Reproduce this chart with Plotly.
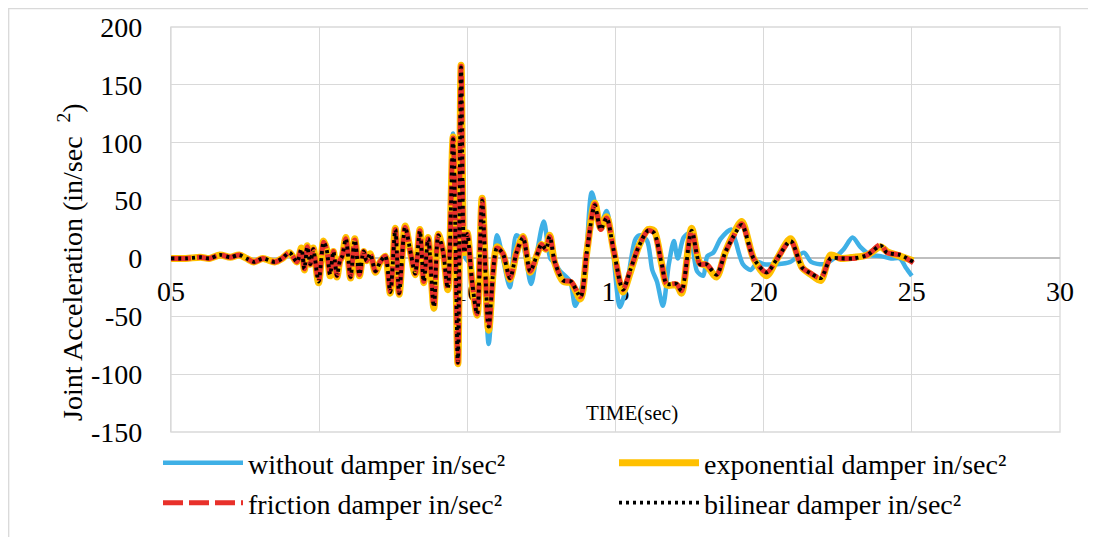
import plotly.graph_objects as go

# ---------------- data ----------------
time_damped = [
    0, 0.5, 1.0, 1.3, 1.65, 2.0, 2.3, 2.55, 2.8, 3.1,
    3.5, 3.75, 4.0, 4.25, 4.4, 4.5, 4.6, 4.7, 4.8, 4.98,
    5.15, 5.25, 5.37, 5.48, 5.6, 5.7, 5.78, 5.9, 6.06, 6.2,
    6.36, 6.5, 6.6, 6.72, 6.9, 7.06, 7.23, 7.4, 7.57, 7.7,
    7.9, 8.1, 8.24, 8.4, 8.53, 8.68, 8.87, 9.02, 9.18, 9.34,
    9.52, 9.68, 9.79, 9.9, 10.0, 10.16, 10.33, 10.5, 10.72, 11.0,
    11.2, 11.44, 11.66, 11.88, 12.12, 12.35, 12.5, 12.65, 12.78, 12.95,
    13.24, 13.5, 13.82, 14.03, 14.3, 14.5, 14.7, 14.93, 15.25, 15.5,
    15.78, 16.1, 16.3, 16.56, 16.73, 17.06, 17.23, 17.57, 17.85, 18.07,
    18.41, 18.7, 18.98, 19.26, 19.66, 20.1, 20.46, 20.91, 21.3, 21.6,
    21.93, 22.26, 22.6, 23.04, 23.5, 23.95, 24.16, 24.6, 25.05,
]

exponential_damper = [
    0, 0, 1, 0, 3, 1, 3, 0, -3, 0,
    -3, 0, 5, -3, 9, -10, 11, -5, 9, -21,
    15, 8, -15, 6, -16, -2, 2, 18, -17, 17,
    -15, 6, -2, 4, -12, -3, 2, -30, 26, -31,
    28, 3, -14, 25, -21, 18, -43, 21, 6, -27,
    105, -91, 167, 5, 22, -21, -49, 52, -62, 10,
    4, -18, 5, 19, -12, 3, 12, 8, 20, -4,
    -20, -21, -35, 5, 48, 26, 36, 8, -29, -12,
    10, 25, 24, -5, -23, -23, -30, 26, -4, -6,
    -16, 5, 21, 32, 0, -15, 0, 17, -8, -14,
    -19, 3, 0, 1, 3, 10, 6, 2, -2,
]

friction_damper = [
    0, 0, 1, 0, 3, 1, 3, 0, -3, 0,
    -3, 0, 5, -3, 8, -9, 10, -5, 8, -20,
    14, 8, -14, 6, -15, -2, 2, 17, -16, 16,
    -14, 6, -2, 4, -11, -3, 2, -29, 25, -30,
    27, 3, -13, 24, -20, 17, -42, 20, 6, -26,
    104, -90, 166, 5, 21, -20, -48, 51, -60, 9,
    4, -17, 5, 18, -11, 3, 12, 8, 19, -3,
    -19, -20, -33, 5, 47, 25, 35, 8, -27, -10,
    10, 24, 22, -5, -22, -22, -28, 24, -5, -5,
    -14, 5, 19, 30, 0, -12, 0, 15, -8, -13,
    -17, 0, 0, 0, 3, 12, 5, 3, -4,
]

bilinear_damper = [
    0, 0, 1, 0, 3, 1, 3, 0, -3, 0,
    -3, 0, 5, -3, 8, -9, 10, -5, 8, -20,
    14, 8, -14, 6, -15, -2, 2, 17, -16, 16,
    -14, 6, -2, 4, -11, -3, 2, -29, 25, -30,
    27, 3, -13, 24, -20, 17, -42, 20, 6, -26,
    103, -90, 165, 5, 21, -20, -48, 50, -59, 9,
    4, -17, 5, 18, -11, 3, 12, 8, 19, -3,
    -19, -20, -33, 5, 46, 25, 35, 8, -27, -10,
    10, 24, 22, -5, -22, -22, -28, 24, -5, -5,
    -14, 5, 19, 29, 0, -12, 0, 15, -8, -13,
    -17, 0, 0, 0, 3, 11, 5, 3, -3,
]

time_without = [
    0, 0.5, 1.0, 1.3, 1.65, 2.0, 2.3, 2.55, 2.8, 3.1,
    3.5, 3.75, 4.0, 4.25, 4.4, 4.5, 4.6, 4.7, 4.8, 4.98,
    5.15, 5.25, 5.37, 5.48, 5.6, 5.7, 5.78, 5.9, 6.06, 6.2,
    6.36, 6.5, 6.6, 6.72, 6.9, 7.06, 7.23, 7.4, 7.57, 7.7,
    7.9, 8.1, 8.24, 8.4, 8.53, 8.68, 8.87, 9.02, 9.18, 9.34,
    9.52, 9.66, 9.8, 9.95, 10.1, 10.33, 10.5, 10.72, 11.0, 11.2,
    11.44, 11.65, 11.85, 12.15, 12.35, 12.58, 12.8, 12.95, 13.13, 13.47,
    13.64, 13.86, 14.03, 14.2, 14.5, 14.7, 14.9, 15.15, 15.4, 15.68,
    15.85, 16.07, 16.24, 16.4, 16.6, 16.8, 16.97, 17.1, 17.3, 17.5,
    17.75, 17.96, 18.1, 18.3, 18.55, 18.9, 19.05, 19.3, 19.56, 19.8,
    20.0, 20.45, 20.9, 21.36, 21.6, 22.03, 22.37, 22.7, 23.0, 23.26,
    23.6, 23.95, 24.3, 24.6, 24.8, 25.0,
]

without_damper = [
    0, 0, 1, 0, 3, 1, 3, 0, -3, 0,
    -3, 0, 5, -3, 8, -9, 10, -5, 8, -20,
    14, 8, -14, 6, -15, -2, 2, 17, -16, 16,
    -14, 6, -2, 4, -11, -3, 2, -29, 25, -30,
    27, 3, -13, 24, -20, 17, -44, 20, 6, -26,
    108, -85, 15, 0, -5, -45, 45, -74, 20, 0,
    -25, 20, 15, -22, 5, 32, 0, -4, -11, -20,
    -41, -25, 10, 57, 30, 41, 10, -42, -20, 17,
    20, 15, -10, -20, -41, -5, 15, 0, 18, 22,
    -11, -15, 2, 5, 17, 25, 15, -5, -10, -3,
    -5, -5, -3, 5, -3, -5, 0, 8, 18, 10,
    3, 2, 0, 0, -8, -15,
]

x_tick_values = [0, 5, 10, 15, 20, 25, 30]
x_tick_labels = ["05", "", "10", "15", "20", "25", "30"]
y_tick_values = [-150, -100, -50, 0, 50, 100, 150, 200]
y_tick_labels = ["-150", "-100", "-50", "0", "50", "100", "150", "200"]

series_names = [
    "without damper in/sec²",
    "exponential damper in/sec²",
    "friction damper in/sec²",
    "bilinear damper in/sec²",
]

# ---------------- figure ----------------
FONT = "Liberation Serif, Times New Roman, serif"
OFF = 8  # the page body offsets the figure by 8px
W, H = 1096 - OFF, 537 - OFF
# plot area in page pixels: x 171..1060, y 27..432
L, T = 171 - OFF, 27 - OFF
R = W - (1060 - OFF)
B = H - (432 - OFF)
PW, PH = W - L - R, H - T - B


def px_x(page_x):
    return (page_x - OFF - L) / PW


def px_y(page_y):
    return (H - B - (page_y - OFF)) / PH


fig = go.Figure()

fig.add_trace(go.Scatter(
    x=time_without, y=without_damper, mode="lines", name=series_names[0],
    line=dict(color="#3fb0e6", width=4.5, shape="spline", smoothing=0.8),
    legend="legend",
))
fig.add_trace(go.Scatter(
    x=time_damped, y=exponential_damper, mode="lines", name=series_names[1],
    line=dict(color="#ffc000", width=7, shape="spline", smoothing=0.8),
    legend="legend2",
))
fig.add_trace(go.Scatter(
    x=time_damped, y=friction_damper, mode="lines", name=series_names[2],
    line=dict(color="#e8302a", width=5, dash="20px,6px", shape="spline", smoothing=0.8),
    legend="legend3",
))
fig.add_trace(go.Scatter(
    x=time_damped, y=bilinear_damper, mode="lines", name=series_names[3],
    line=dict(color="#000000", width=3.8, dash="3px,4px", shape="spline", smoothing=0.8),
    legend="legend4",
))

zero_frac = (0 - (-150)) / 350.0


def legend_at(page_x, page_y):
    return dict(
        orientation="h", x=px_x(page_x), xanchor="left",
        y=px_y(page_y), yanchor="middle",
        itemwidth=80,
        font=dict(family=FONT, size=28, color="#000000"),
        bgcolor="rgba(0,0,0,0)",
    )


fig.update_layout(
    width=W, height=H,
    margin=dict(l=L, r=R, t=T, b=B, autoexpand=False),
    paper_bgcolor="white", plot_bgcolor="white",
    font=dict(family=FONT, size=28, color="#000000"),
    xaxis=dict(
        range=[0, 30], tickvals=x_tick_values, ticktext=x_tick_labels,
        showgrid=True, gridcolor="#d9d9d9", gridwidth=1.3,
        zeroline=False, showline=False, ticks="",
        anchor="free", position=zero_frac, layer="below traces",
        ticklabelstandoff=14, automargin=False,
        tickfont=dict(family=FONT, size=28, color="#000000"),
    ),
    yaxis=dict(
        range=[-150, 200], tickvals=y_tick_values, ticktext=y_tick_labels,
        showgrid=True, gridcolor="#d9d9d9", gridwidth=1.3,
        zeroline=True, zerolinecolor="#bfbfbf", zerolinewidth=2,
        showline=True, linecolor="#d9d9d9", linewidth=1.3,
        ticks="", ticklabelstandoff=22, automargin=False,
        tickfont=dict(family=FONT, size=28, color="#000000"),
    ),
    legend=legend_at(158, 463),
    legend2=legend_at(614, 463),
    legend3=legend_at(158, 503),
    legend4=legend_at(614, 503),
    showlegend=True,
)

# y-axis title (placed like the reference: lower than the plot centre)
fig.add_annotation(
    text="Joint Acceleration (in/sec&nbsp; <sup>2</sup>)", textangle=-90,
    xref="paper", yref="paper", x=px_x(70), y=px_y(262),
    xanchor="center", yanchor="middle", showarrow=False,
    font=dict(family=FONT, size=28, color="#000000"),
)

# x-axis title placed near bottom of plot area like the reference
fig.add_annotation(
    text="TIME(sec)", xref="paper", yref="paper",
    x=px_x(632), y=px_y(413), xanchor="center", yanchor="middle",
    showarrow=False, font=dict(family=FONT, size=21, color="#000000"),
)

# plot-area frame and outer chart frame
fig.add_shape(type="rect", xref="paper", yref="paper", x0=0, x1=1, y0=0, y1=1,
              line=dict(color="#d9d9d9", width=1.3), layer="below")
fig.add_shape(type="rect", xref="paper", yref="paper",
              x0=px_x(8.7), x1=px_x(1120),
              y0=px_y(560), y1=px_y(8.7),
              line=dict(color="#d9d9d9", width=1.3), layer="below")

fig.write_html("out.html")
